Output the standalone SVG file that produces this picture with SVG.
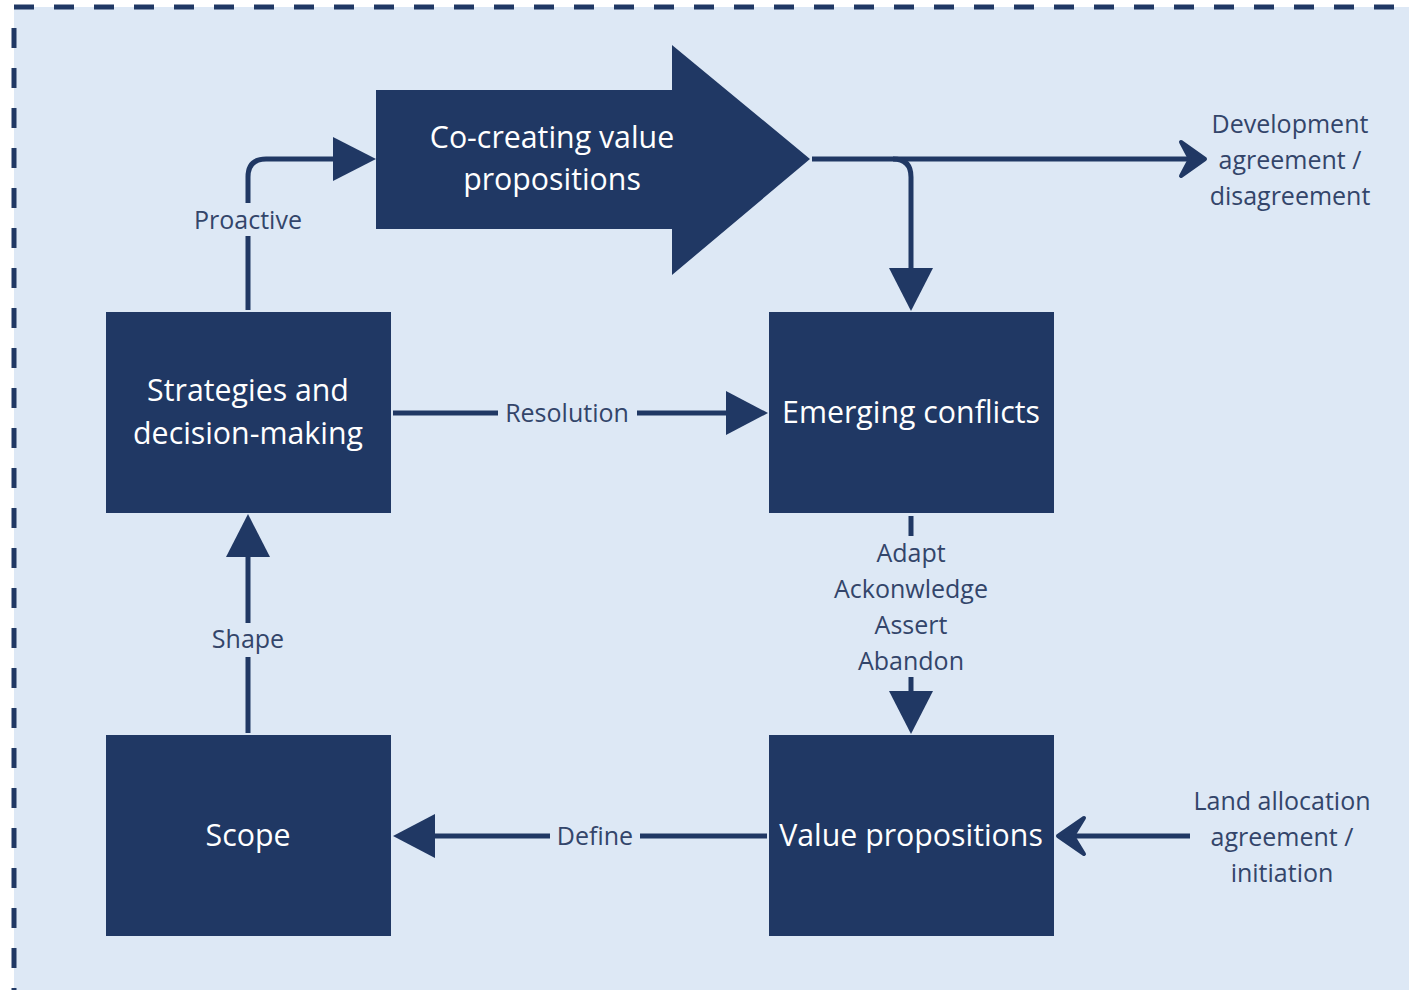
<svg xmlns="http://www.w3.org/2000/svg" width="1409" height="990" viewBox="0 0 1409 990">
  <defs>
    <style>
      .node { fill: #203864; }
      .ntext { fill: #ffffff; font-family: "Open Sans", "Noto Sans", sans-serif; font-size: 30.3px; text-anchor: middle; }
      .lbl { fill: #33456a; font-family: "Open Sans", "Noto Sans", sans-serif; font-size: 25px; text-anchor: middle; }
      .line { fill: none; stroke: #203864; stroke-width: 5; }
      .head { fill: #203864; }
      .stealth { fill: #203864; stroke: #203864; stroke-width: 4; stroke-linejoin: round; }
      .frame { fill: none; stroke: #203864; stroke-width: 5; stroke-dasharray: 20 20; }
    </style>
  </defs>

  <!-- canvas -->
  <rect x="0" y="0" width="1409" height="990" fill="#ffffff"/>
  <rect x="14" y="7" width="1395" height="983" fill="#dde8f5"/>
  <path class="frame" d="M14,7 H1409"/>
  <path class="frame" d="M14,28 V990"/>

  <!-- connectors -->
  <g id="connectors">
    <!-- Proactive -->
    <path class="line" d="M248,310 V236 M248,203 V177 Q248,159 266,159 H336"/>
    <polygon class="head" points="333,137 376,159 333,181"/>
    <text class="lbl" x="248" y="229">Proactive</text>

    <!-- outcome to the right -->
    <path class="line" d="M812,159 H1195"/>
    <polygon class="stealth" points="1205,159 1181,142 1190,159 1181,176"/>
    <!-- branch down to Emerging conflicts -->
    <path class="line" d="M893,159 Q911,159 911,177 V272"/>
    <polygon class="head" points="889,268 933,268 911,311"/>

    <!-- Resolution -->
    <path class="line" d="M393,413 H498 M637,413 H730"/>
    <polygon class="head" points="726,391 768,413 726,435"/>
    <text class="lbl" x="567" y="422">Resolution</text>

    <!-- Adapt / Acknowledge / Assert / Abandon -->
    <path class="line" d="M911,516 V536 M911,677 V695"/>
    <polygon class="head" points="889,691 933,691 911,734"/>
    <text class="lbl" x="911" y="562">Adapt</text>
    <text class="lbl" x="911" y="598">Ackonwledge</text>
    <text class="lbl" x="911" y="634">Assert</text>
    <text class="lbl" x="911" y="670">Abandon</text>

    <!-- Shape -->
    <path class="line" d="M248,733 V657 M248,623 V553"/>
    <polygon class="head" points="226,557 270,557 248,514"/>
    <text class="lbl" x="248" y="648">Shape</text>

    <!-- Define -->
    <path class="line" d="M767,836 H640 M550,836 H431"/>
    <polygon class="head" points="435,814 435,858 393,836"/>
    <text class="lbl" x="595" y="845">Define</text>

    <!-- Land allocation input -->
    <path class="line" d="M1190,836 H1070"/>
    <polygon class="stealth" points="1058,836 1084,818 1073,836 1084,854"/>
  </g>

  <!-- nodes -->
  <g id="co-creating">
    <polygon class="node" points="376,90 672,90 672,45 810,159 672,275 672,229 376,229"/>
    <text class="ntext" x="552" y="148">Co-creating value</text>
    <text class="ntext" x="552" y="190">propositions</text>
  </g>

  <g id="strategies">
    <rect class="node" x="106" y="312" width="285" height="201"/>
    <text class="ntext" x="248" y="401">Strategies and</text>
    <text class="ntext" x="248" y="444">decision-making</text>
  </g>

  <g id="emerging-conflicts">
    <rect class="node" x="769" y="312" width="285" height="201"/>
    <text class="ntext" x="911" y="423">Emerging conflicts</text>
  </g>

  <g id="scope">
    <rect class="node" x="106" y="735" width="285" height="201"/>
    <text class="ntext" x="248" y="846">Scope</text>
  </g>

  <g id="value-propositions">
    <rect class="node" x="769" y="735" width="285" height="201"/>
    <text class="ntext" x="911" y="846">Value propositions</text>
  </g>

  <g id="development-agreement">
    <text class="lbl" x="1290" y="133">Development</text>
    <text class="lbl" x="1290" y="169">agreement /</text>
    <text class="lbl" x="1290" y="205">disagreement</text>
  </g>

  <g id="land-allocation">
    <text class="lbl" x="1282" y="810">Land allocation</text>
    <text class="lbl" x="1282" y="846">agreement /</text>
    <text class="lbl" x="1282" y="882">initiation</text>
  </g>
</svg>
